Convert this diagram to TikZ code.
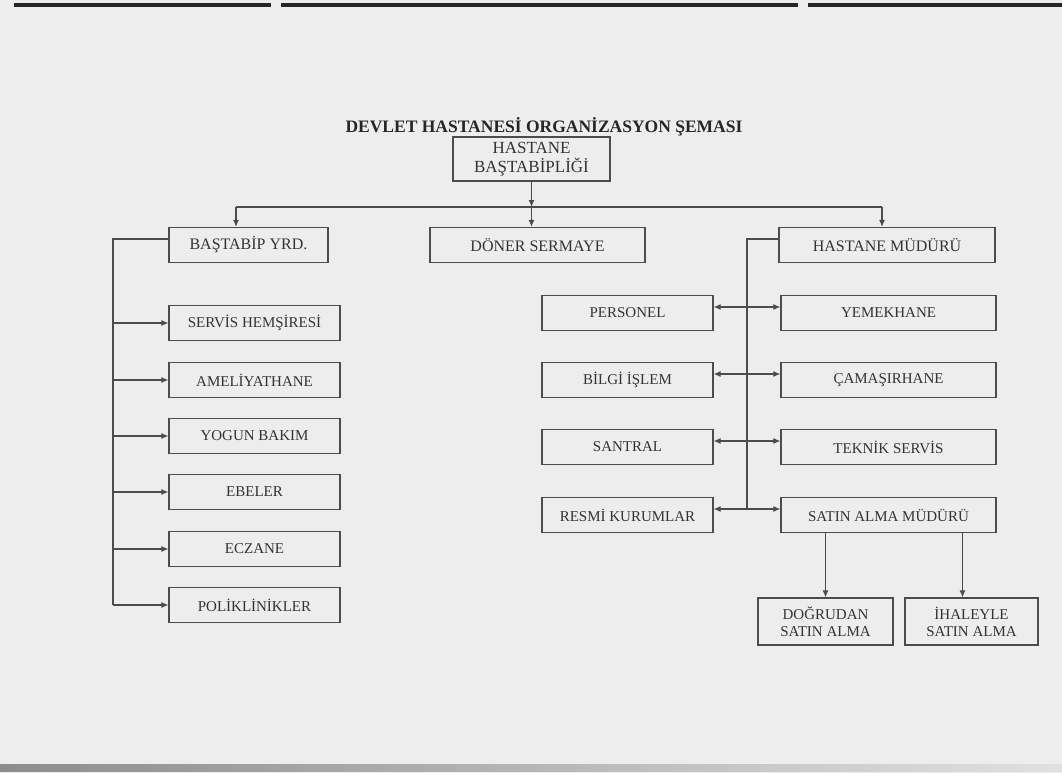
\documentclass[tikz,border=0pt]{standalone}
\usepackage{fontspec}
\setmainfont{Liberation Serif}
\usetikzlibrary{arrows.meta}
\begin{document}
\begin{tikzpicture}[x=1pt,y=-1pt,
    unitBox/.style={draw=black!70,line width=1.2pt,inner sep=0pt,text=black!80,align=center,font=\fontsize{15}{17}\selectfont},
    link/.style={draw=black!70,line width=1.1pt,-{Latex[length=7pt,width=6pt]}},
    twoWay/.style={draw=black!70,line width=1.1pt,{Latex[length=7pt,width=6pt]}-{Latex[length=7pt,width=6pt]}}]
        \pgfmathsetmacro{\leftBus}{113}
        \pgfmathsetmacro{\rightBus}{747}
        \pgfmathsetmacro{\topBus}{207}
        \fill[black!7] (0,0) rectangle (1062,773);
        \useasboundingbox (0,0) rectangle (1062,773);
        \fill[black!85] (14,3) rectangle (271,7);
        \fill[black!85] (281,3) rectangle (798,7);
        \fill[black!85] (808,3) rectangle (1062,7);
        \shade[left color=black!45,right color=black!12] (0,764) rectangle (1062,771);
        \node[text=black!85,font=\bfseries\fontsize{17.5}{20}\selectfont] (title) at (544,127) {DEVLET HASTANES\.I ORGAN\.IZASYON \c{S}EMASI};
        \node[unitBox,minimum width=157pt,minimum height=44pt,font=\fontsize{17}{19}\selectfont] (bastabiplik) at (531.5,159) {HASTANE\\BA\c{S}TAB\.IPL\.I\u{G}\.I};
        \node[unitBox,minimum width=159pt,minimum height=35pt,font=\fontsize{16}{18}\selectfont] (bastabipYrd) at (248.5,245) {BA\c{S}TAB\.IP YRD.};
        \node[unitBox,minimum width=215pt,minimum height=35pt,font=\fontsize{16}{18}\selectfont] (donerSermaye) at (537.5,245) {D\"ONER SERMAYE};
        \node[unitBox,minimum width=216pt,minimum height=35pt,font=\fontsize{16}{18}\selectfont] (hastaneMuduru) at (887,245) {HASTANE M\"UD\"UR\"U};
        \coordinate (busMid) at (531.5,\topBus);
        \coordinate (busLeft) at (236,\topBus);
        \coordinate (busRight) at (882,\topBus);
        \draw[link] (bastabiplik) -- (busMid);
        \draw[draw=black!70,line width=1.1pt] (busLeft) -- (busRight);
        \draw[link] (busLeft) -- (busLeft |- bastabipYrd.north);
        \draw[link] (busMid) -- (busMid |- donerSermaye.north);
        \draw[link] (busRight) -- (busRight |- hastaneMuduru.north);
        \foreach \name/\ypos/\label in {servis/323/SERV\.IS HEM\c{S}\.IRES\.I,ameliyat/380/AMEL\.IYATHANE,yogun/436/YOGUN BAKIM,ebeler/492/EBELER,eczane/549/ECZANE,poliklinik/605/POL\.IKL\.IN\.IKLER}{
          \node[unitBox,minimum width=171pt,minimum height=35pt] (\name) at (254.5,\ypos) {\label};
          \draw[link] (\leftBus,\ypos) -- (\name.west);
        }
        \coordinate (leftTop) at (\leftBus,239);
        \draw[draw=black!70,line width=1.1pt] ([yshift=6pt]bastabipYrd.west) -- (leftTop) -- (leftTop |- poliklinik);
        \foreach \leftName/\rightName/\ypos/\leftLabel/\rightLabel in {personel/yemekhane/313/PERSONEL/YEMEKHANE,bilgi/camasir/380/B\.ILG\.I \.I\c{S}LEM/\c{C}AMA\c{S}IRHANE,santral/teknik/447/SANTRAL/TEKN\.IK SERV\.IS,resmi/satinAlma/515/RESM\.I KURUMLAR/SATIN ALMA M\"UD\"UR\"U}{
          \node[unitBox,minimum width=171pt,minimum height=35pt] (\leftName) at (627.5,\ypos) {\leftLabel};
          \node[unitBox,minimum width=215pt,minimum height=35pt] (\rightName) at (888.5,\ypos) {\rightLabel};
          \draw[twoWay] ([yshift=6pt]\leftName.east) -- ([yshift=6pt]\rightName.west);
        }
        \coordinate (rightTop) at (\rightBus,239);
        \coordinate (rightEnd) at (\rightBus,509);
        \draw[draw=black!70,line width=1.1pt] ([yshift=6pt]hastaneMuduru.west) -- (rightTop) -- (rightEnd);
        \node[unitBox,minimum width=135pt,minimum height=47pt] (dogrudan) at (825.5,621.5) {DO\u{G}RUDAN\\SATIN ALMA};
        \node[unitBox,minimum width=133pt,minimum height=47pt] (ihaleyle) at (971.5,621.5) {\.IHALEYLE\\SATIN ALMA};
        \draw[link] (dogrudan.north |- satinAlma.south) -- (dogrudan.north);
        \draw[link] ([xshift=-9pt]ihaleyle.north |- satinAlma.south) -- ([xshift=-9pt]ihaleyle.north);
      \end{tikzpicture}
\end{document}
